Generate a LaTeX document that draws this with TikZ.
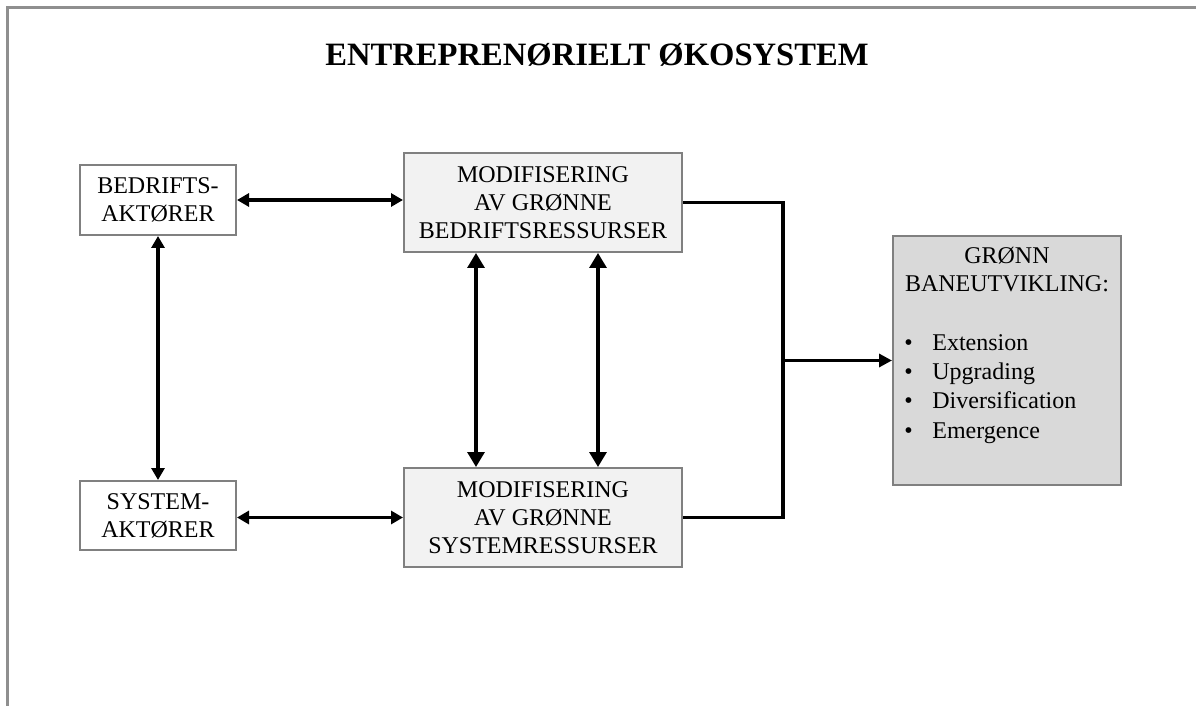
\documentclass[tikz,border=0pt]{standalone}
\usepackage{fontspec}
\setmainfont{Liberation Serif}
\usetikzlibrary{arrows.meta,calc}
\definecolor{boxline}{HTML}{808080}
\definecolor{lightfill}{HTML}{F2F2F2}
\definecolor{darkfill}{HTML}{D9D9D9}
\definecolor{frameline}{HTML}{8F8F8F}

\begin{document}
\begin{tikzpicture}[x=0.5pt,y=-0.5pt,
    box/.style={draw=boxline,line width=1pt,align=center,inner sep=0pt,font=\fontsize{12}{14}\selectfont},
    actorbox/.style={box,fill=white,minimum width=78pt,minimum height=35pt},
    resbox/.style={box,fill=lightfill,minimum width=139pt,minimum height=49.5pt},
    pathbox/.style={box,fill=darkfill,minimum width=114pt,minimum height=124.5pt},
    link/.style={line width=1.6pt},
    both/.style={link,{Triangle[length=6pt,width=6.5pt]}-{Triangle[length=6pt,width=6.5pt]}},
    bothbig/.style={link,{Triangle[length=7.5pt,width=8.5pt]}-{Triangle[length=7.5pt,width=8.5pt]}},
    into/.style={link,-{Triangle[length=6.5pt,width=6.5pt]}}]

            \useasboundingbox (0,0) rectangle (1196,706);
            \draw[frameline,line width=1.1pt] (7.5,706) -- (7.5,7.5) -- (1196,7.5);

            \node[font=\fontsize{16.3}{19}\selectfont\bfseries] (title) at (597,55) {ENTREPRENØRIELT ØKOSYSTEM};

            \node[actorbox] (bedr) at (158,200) {BEDRIFTS-\\AKTØRER};
            \node[actorbox,minimum height=34.5pt] (syst) at (158,515.5) {SYSTEM-\\AKTØRER};

            \node[resbox] (modb) at (543,202.5) {MODIFISERING\\AV GRØNNE\\BEDRIFTSRESSURSER};
            \node[resbox] (mods) at (543,517.5) {MODIFISERING\\AV GRØNNE\\SYSTEMRESSURSER};

            \node[pathbox] (gronn) at (1007,360.5) {};
            \node[font=\fontsize{12}{14}\selectfont,anchor=north,inner sep=0pt,align=center] (gronnhead)
                at ($(gronn.north)+(0,12)$) {GRØNN\\BANEUTVIKLING:};
            \node[font=\fontsize{12}{14.65}\selectfont,anchor=north west,inner sep=0pt,align=left] (gronnlist)
                at ($(gronn.north west)+(12,99)$)
                {\makebox[14pt][l]{\textbullet}Extension\\
                 \makebox[14pt][l]{\textbullet}Upgrading\\
                 \makebox[14pt][l]{\textbullet}Diversification\\
                 \makebox[14pt][l]{\textbullet}Emergence};

            \coordinate (va) at (476,0);
            \coordinate (vb) at (598,0);
            \coordinate (join) at (783,360.5);

            \draw[both] (bedr.east) -- (bedr.east -| modb.west);
            \draw[both] (syst.east |- mods.west) -- (mods.west);
            \draw[both] (bedr.south) -- (syst.north);
            \draw[bothbig] (va |- modb.south) -- (va |- mods.north);
            \draw[bothbig] (vb |- modb.south) -- (vb |- mods.north);

            \draw[link] (modb.east) -- (join |- modb.east) -- (join |- mods.east) -- (mods.east);
            \draw[into] (join) -- (gronn.west);
        \end{tikzpicture}
\end{document}
